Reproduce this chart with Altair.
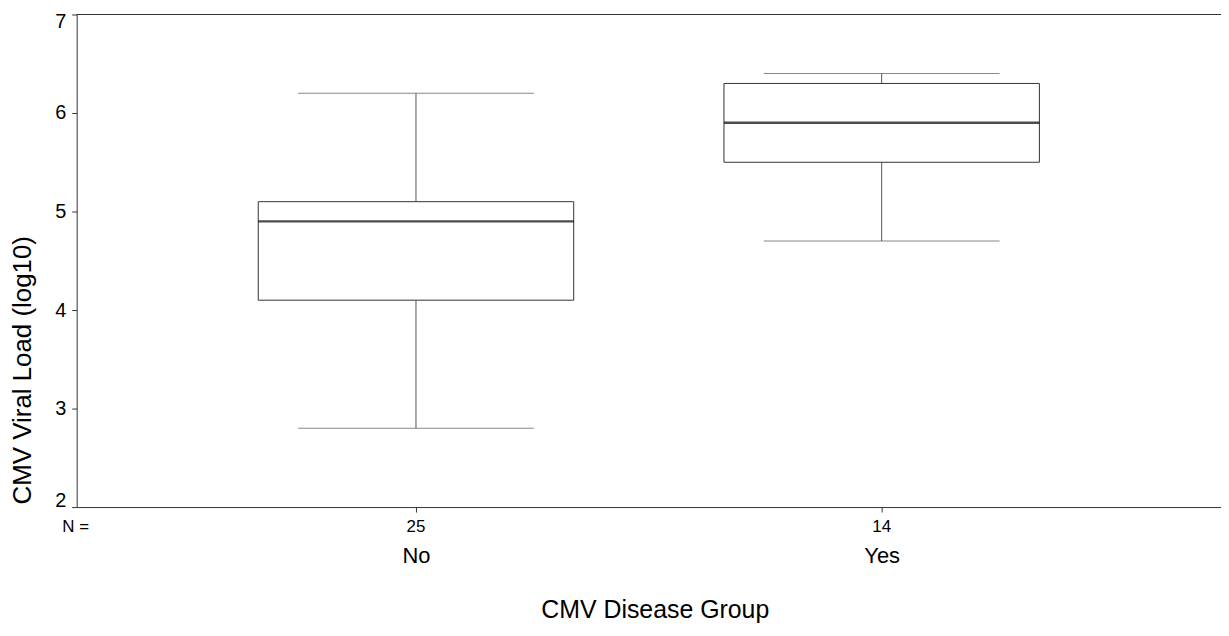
import altair as alt
import pandas as pd

groups = ["No", "Yes"]
n_counts = [25, 14]
whisk_lo = [2.8, 4.7]
q1 = [4.1, 5.5]
median = [4.9, 5.9]
q3 = [5.1, 6.3]
whisk_hi = [6.2, 6.4]
y_ticks = [2, 3, 4, 5, 6, 7]
n_prefix = ["N ="]

df = pd.DataFrame({
    "group": groups, "n": [str(v) for v in n_counts],
    "lo": whisk_lo, "q1": q1, "med": median, "q3": q3, "hi": whisk_hi,
})

W, H = 1150, 495
FONT = "Liberation Sans"

xscale = alt.Scale(type="point", domain=groups, padding=0.7286)
yscale = alt.Scale(domain=[2, 7], nice=False, zero=False)

x_enc = alt.X(
    "group:O", scale=xscale,
    axis=alt.Axis(
        title="CMV Disease Group", labelAngle=0, labelFontSize=22, labelPadding=34,
        tickSize=5, titleFontSize=25, titleFontWeight="normal",
        titleX=581, titleY=111, titleBaseline="alphabetic", titleAlign="center",
    ),
)
y_axis = alt.Axis(
    title="CMV Viral Load (log10)", values=y_ticks, format="d", labelFontSize=20,
    labelPadding=6, tickSize=5, titleFontSize=26, titleFontWeight="normal",
    labelFlush=True, labelFlushOffset=3,
    titleX=-46, titleY=357, titleAngle=-90, titleBaseline="alphabetic", titleAlign="center",
)

base = alt.Chart(df)

whisk_low = base.mark_rule(color="#555", strokeWidth=1).encode(
    x=x_enc, y=alt.Y("lo:Q", scale=yscale, axis=y_axis), y2="q1:Q")
whisk_high = base.mark_rule(color="#555", strokeWidth=1).encode(
    x=x_enc, y=alt.Y("q3:Q", scale=yscale), y2="hi:Q")
cap_lo = base.mark_tick(color="#555", thickness=1, size=237).encode(
    x=x_enc, y=alt.Y("lo:Q", scale=yscale))
cap_hi = base.mark_tick(color="#555", thickness=1, size=237).encode(
    x=x_enc, y=alt.Y("hi:Q", scale=yscale))
box = base.mark_bar(fill="white", stroke="#333", strokeWidth=1, size=317).encode(
    x=x_enc, y=alt.Y("q1:Q", scale=yscale), y2="q3:Q")
med = base.mark_tick(color="black", thickness=2.5, size=317).encode(
    x=x_enc, y=alt.Y("med:Q", scale=yscale))
top_line = base.mark_rule(color="#333", strokeWidth=1).encode(
    y=alt.datum(7, scale=yscale), x=alt.value(0), x2=alt.value(W))
n_text = base.mark_text(fontSize=17, baseline="alphabetic", font=FONT, color="black").encode(
    x=x_enc, y=alt.value(520), text="n:N")
n_lab = alt.Chart(pd.DataFrame({"t": n_prefix})).mark_text(
    fontSize=17, baseline="alphabetic", font=FONT, color="black").encode(
    x=alt.value(-1), y=alt.value(520), text="t:N")

chart = alt.layer(
    top_line, whisk_low, whisk_high, cap_lo, cap_hi, box, med, n_text, n_lab
).properties(
    width=W, height=H,
    autosize=alt.AutoSizeParams(type="none"),
    padding={"left": 69, "top": 5, "right": 0, "bottom": 120},
).configure_view(stroke=None).configure_axis(
    grid=False, domainColor="#333", tickColor="#333", labelColor="black",
    titleColor="black", labelFont=FONT, titleFont=FONT,
)

chart.save("out.html", embed_options={"renderer": "svg", "actions": False})
